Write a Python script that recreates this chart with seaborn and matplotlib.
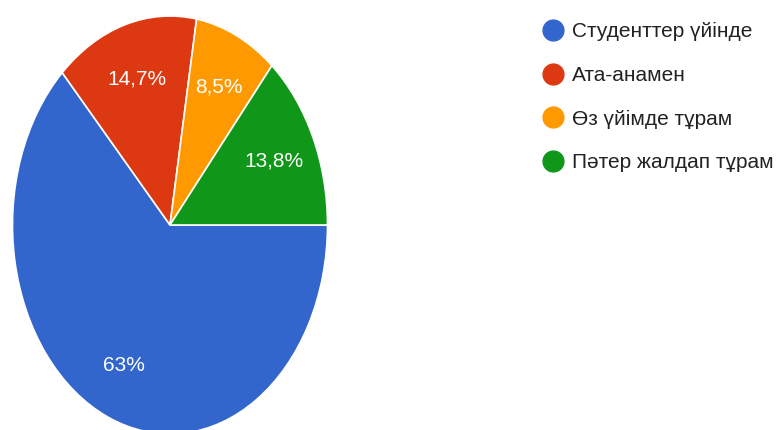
import seaborn as sns
import matplotlib.pyplot as plt
from matplotlib.lines import Line2D

labels = ["Студенттер үйінде", "Ата-анамен", "Өз үйімде тұрам", "Пәтер жалдап тұрам"]
shares = [63.0, 14.7, 8.5, 13.8]
colors = ["#3366cc", "#dc3912", "#ff9900", "#109618"]

sns.set_theme(style="white")
plt.rcParams['font.family'] = ['Liberation Sans', 'DejaVu Sans']

fig = plt.figure(figsize=(7.79, 4.30), dpi=100)
# pie looks vertically stretched in the reference, so use a non-square axes
ax = fig.add_axes([12.5 / 779, (430 - 434) / 430, 315 / 779, 418 / 430])


def fmt(p):
    s = f"{p:.1f}"
    if s.endswith(".0"):
        s = s[:-2]
    return s.replace(".", ",") + "%"


wedges, texts, autotexts = ax.pie(
    shares, colors=colors, startangle=0, counterclock=False,
    autopct=fmt, pctdistance=0.73,
    wedgeprops=dict(edgecolor="white", linewidth=1.2),
    textprops=dict(color="white", fontsize=15))
ax.set_aspect("auto")
ax.set_xlim(-1, 1)
ax.set_ylim(-1, 1)

handles = [Line2D([], [], marker="o", linestyle="", markersize=15,
                  markerfacecolor=c, markeredgecolor=c) for c in colors]
fig.legend(handles, labels, loc="upper left", bbox_to_anchor=(533 / 779, 1 - 14 / 430),
           frameon=False, fontsize=15, handletextpad=0.33, labelspacing=1.18,
           borderaxespad=0, handlelength=1.15, labelcolor="#222222")

fig.savefig("out.png", dpi=100)
